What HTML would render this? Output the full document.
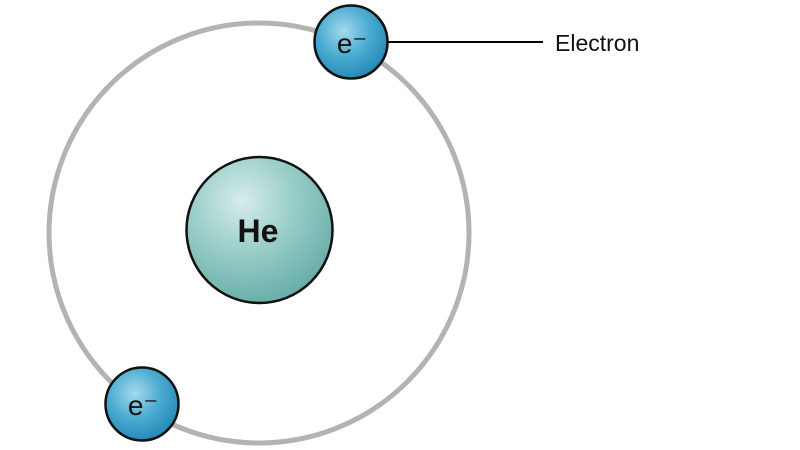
<!DOCTYPE html>
<html><head><meta charset="utf-8"><style>html,body{margin:0;padding:0;background:#fff;}svg{display:block}</style></head>
<body>
<svg width="800" height="450" viewBox="0 0 800 450" xmlns="http://www.w3.org/2000/svg">
<defs>
<radialGradient id="n" cx="0.38" cy="0.3" r="0.75">
<stop offset="0" stop-color="#d6ecea"/><stop offset="0.45" stop-color="#9ccfca"/><stop offset="1" stop-color="#64aba6"/>
</radialGradient>
<radialGradient id="e" cx="0.4" cy="0.35" r="0.7">
<stop offset="0" stop-color="#a6d9ec"/><stop offset="0.5" stop-color="#4cacd2"/><stop offset="1" stop-color="#1f86b4"/>
</radialGradient>
</defs>
<circle cx="259" cy="233" r="210" fill="none" stroke="#b3b3b3" stroke-width="5"/>
<line x1="385" y1="42" x2="543" y2="42" stroke="#000" stroke-width="2"/>
<circle cx="259.5" cy="230" r="73" fill="url(#n)" stroke="#111" stroke-width="2.5"/>
<text x="258" y="242" font-family="Liberation Sans, sans-serif" font-weight="bold" font-size="32" text-anchor="middle" fill="#111">He</text>
<circle cx="351" cy="42" r="36.5" fill="url(#e)" stroke="#111" stroke-width="2.5"/>
<text x="352" y="53" font-family="Liberation Sans, sans-serif" font-size="28" text-anchor="middle" fill="#111">e⁻</text>
<circle cx="142" cy="404" r="36.5" fill="url(#e)" stroke="#111" stroke-width="2.5"/>
<text x="143" y="415" font-family="Liberation Sans, sans-serif" font-size="28" text-anchor="middle" fill="#111">e⁻</text>
<text x="555" y="51" font-family="Liberation Sans, sans-serif" font-size="23" fill="#111">Electron</text>
</svg>
</body></html>
